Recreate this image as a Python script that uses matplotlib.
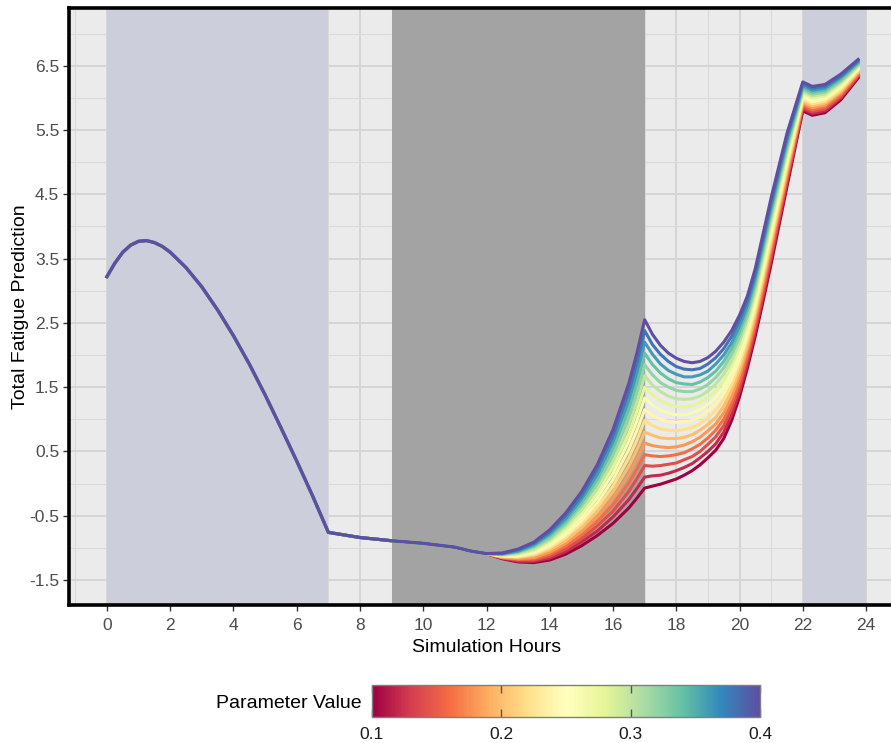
import numpy as np
import matplotlib
matplotlib.use('Agg')
import matplotlib.pyplot as plt
from matplotlib.colors import Normalize
from matplotlib.cm import ScalarMappable

plt.rcParams['font.family'] = ['Liberation Sans', 'DejaVu Sans']
plt.rcParams['axes.unicode_minus'] = False

# parameter values, one line each
params = [0.10, 0.12, 0.14, 0.16, 0.18, 0.20, 0.22, 0.24,
          0.26, 0.28, 0.30, 0.32, 0.34, 0.36, 0.38, 0.40]

# shared part of the curve (all lines overlap here)
early_hours = [0, 0.25, 0.5, 0.75, 1, 1.25, 1.5, 1.75, 2, 2.5, 3, 3.5, 4, 4.5,
               5, 5.5, 6, 6.5, 7, 7.5, 8, 9, 10, 10.5, 11, 11.5]
early_fatigue = [3.22, 3.43, 3.60, 3.71, 3.77, 3.78, 3.75, 3.69, 3.60, 3.36, 3.06, 2.70,
                 2.30, 1.86, 1.38, 0.87, 0.35, -0.19, -0.76, -0.80, -0.84, -0.89,
                 -0.93, -0.96, -0.99, -1.05]

# after hour 12 the lines split; each row = one hour, values for params 0.10 .. 0.40
late_hours = [12, 12.5, 13, 13.5, 14, 14.5, 15, 15.5, 16, 16.5, 16.75, 17, 17.25,
              17.5, 17.75, 18, 18.25, 18.5, 18.75, 19, 19.25, 19.5, 19.75, 20,
              20.25, 20.5, 20.75, 21, 21.5, 22, 22.3, 22.7, 23.2, 23.75]
late_by_hour = [
    [-1.09] * 16,
    [-1.17, -1.16, -1.16, -1.15, -1.15, -1.14, -1.13, -1.13, -1.12, -1.12, -1.11, -1.10, -1.10, -1.09, -1.09, -1.08],
    [-1.22, -1.21, -1.19, -1.18, -1.17, -1.15, -1.14, -1.13, -1.11, -1.10, -1.09, -1.07, -1.06, -1.05, -1.03, -1.02],
    [-1.23, -1.21, -1.19, -1.17, -1.15, -1.12, -1.10, -1.08, -1.06, -1.04, -1.02, -0.99, -0.97, -0.95, -0.93, -0.91],
    [-1.19, -1.16, -1.13, -1.10, -1.07, -1.03, -1.00, -0.97, -0.94, -0.91, -0.88, -0.85, -0.81, -0.78, -0.75, -0.72],
    [-1.10, -1.06, -1.02, -0.97, -0.93, -0.89, -0.84, -0.80, -0.76, -0.72, -0.67, -0.63, -0.59, -0.55, -0.50, -0.46],
    [-0.97, -0.91, -0.86, -0.80, -0.75, -0.69, -0.63, -0.58, -0.52, -0.47, -0.41, -0.35, -0.30, -0.24, -0.19, -0.13],
    [-0.81, -0.74, -0.66, -0.59, -0.52, -0.44, -0.37, -0.30, -0.22, -0.15, -0.08, 0.00, 0.07, 0.14, 0.22, 0.29],
    [-0.62, -0.52, -0.43, -0.33, -0.23, -0.13, -0.04, 0.06, 0.16, 0.26, 0.35, 0.45, 0.55, 0.65, 0.74, 0.84],
    [-0.38, -0.25, -0.12, 0.01, 0.14, 0.27, 0.40, 0.53, 0.66, 0.78, 0.91, 1.04, 1.17, 1.30, 1.43, 1.56],
    [-0.23, -0.08, 0.07, 0.22, 0.37, 0.52, 0.67, 0.82, 0.97, 1.12, 1.27, 1.42, 1.57, 1.72, 1.87, 2.02],
    [-0.07, 0.10, 0.28, 0.45, 0.63, 0.80, 0.98, 1.15, 1.33, 1.50, 1.68, 1.85, 2.03, 2.20, 2.38, 2.55],
    [-0.04, 0.12, 0.27, 0.43, 0.59, 0.75, 0.90, 1.06, 1.22, 1.38, 1.53, 1.69, 1.85, 2.01, 2.16, 2.32],
    [-0.01, 0.13, 0.28, 0.42, 0.57, 0.71, 0.85, 1.00, 1.14, 1.29, 1.43, 1.57, 1.72, 1.86, 2.01, 2.15],
    [0.03, 0.16, 0.30, 0.43, 0.56, 0.70, 0.83, 0.96, 1.10, 1.23, 1.36, 1.50, 1.63, 1.76, 1.90, 2.03],
    [0.07, 0.20, 0.32, 0.45, 0.57, 0.70, 0.82, 0.95, 1.07, 1.20, 1.32, 1.45, 1.57, 1.70, 1.82, 1.95],
    [0.13, 0.25, 0.37, 0.48, 0.60, 0.72, 0.84, 0.96, 1.07, 1.19, 1.31, 1.43, 1.55, 1.66, 1.78, 1.90],
    [0.20, 0.31, 0.42, 0.54, 0.65, 0.76, 0.87, 0.98, 1.10, 1.21, 1.32, 1.43, 1.54, 1.66, 1.77, 1.88],
    [0.29, 0.40, 0.50, 0.61, 0.72, 0.83, 0.93, 1.04, 1.15, 1.26, 1.36, 1.47, 1.58, 1.69, 1.79, 1.90],
    [0.40, 0.50, 0.61, 0.71, 0.82, 0.92, 1.02, 1.13, 1.23, 1.34, 1.44, 1.54, 1.65, 1.75, 1.86, 1.96],
    [0.52, 0.62, 0.73, 0.83, 0.93, 1.03, 1.14, 1.24, 1.34, 1.44, 1.55, 1.65, 1.75, 1.86, 1.96, 2.06],
    [0.70, 0.80, 0.90, 1.00, 1.10, 1.20, 1.30, 1.40, 1.50, 1.60, 1.70, 1.80, 1.90, 2.00, 2.10, 2.20],
    [0.98, 1.07, 1.17, 1.26, 1.35, 1.45, 1.54, 1.63, 1.73, 1.82, 1.91, 2.01, 2.10, 2.19, 2.29, 2.38],
    [1.35, 1.43, 1.52, 1.60, 1.69, 1.77, 1.86, 1.94, 2.03, 2.11, 2.20, 2.28, 2.37, 2.45, 2.54, 2.62],
    [1.80, 1.87, 1.95, 2.02, 2.10, 2.17, 2.25, 2.32, 2.40, 2.47, 2.55, 2.62, 2.70, 2.77, 2.85, 2.92],
    [2.30, 2.37, 2.44, 2.51, 2.58, 2.65, 2.72, 2.79, 2.86, 2.93, 3.00, 3.07, 3.14, 3.21, 3.28, 3.35],
    [2.85, 2.92, 2.99, 3.06, 3.13, 3.20, 3.27, 3.34, 3.41, 3.48, 3.55, 3.62, 3.69, 3.76, 3.83, 3.90],
    [3.42, 3.49, 3.56, 3.63, 3.70, 3.76, 3.83, 3.90, 3.97, 4.04, 4.11, 4.18, 4.24, 4.31, 4.38, 4.45],
    [4.62, 4.68, 4.73, 4.79, 4.84, 4.90, 4.95, 5.01, 5.06, 5.12, 5.17, 5.23, 5.28, 5.34, 5.40, 5.45],
    [5.80, 5.83, 5.86, 5.89, 5.92, 5.95, 5.98, 6.01, 6.04, 6.07, 6.10, 6.13, 6.16, 6.19, 6.22, 6.25],
    [5.73, 5.76, 5.79, 5.82, 5.85, 5.88, 5.91, 5.94, 5.97, 6.00, 6.03, 6.06, 6.09, 6.12, 6.15, 6.18],
    [5.77, 5.80, 5.83, 5.86, 5.89, 5.92, 5.95, 5.98, 6.00, 6.03, 6.06, 6.09, 6.12, 6.15, 6.18, 6.21],
    [5.97, 6.00, 6.02, 6.05, 6.08, 6.10, 6.13, 6.16, 6.18, 6.21, 6.24, 6.26, 6.29, 6.32, 6.34, 6.37],
    [6.31, 6.33, 6.35, 6.37, 6.39, 6.41, 6.43, 6.45, 6.46, 6.48, 6.50, 6.52, 6.54, 6.56, 6.58, 6.60],
]

# shaded periods (start, end, colour)
periods = [(0, 7, '#CCCFDB'), (9, 17, '#A3A3A3'), (22, 24, '#CCCFDB')]

x_ticks = list(range(0, 25, 2))
y_ticks = [-1.5, -0.5, 0.5, 1.5, 2.5, 3.5, 4.5, 5.5, 6.5]

fig = plt.figure(figsize=(8.91, 7.43), dpi=100)
ax = fig.add_axes([69 / 891, 138 / 743, 835 / 891, 597 / 743])
ax.set_facecolor('#EBEBEB')
ax.set_axisbelow(True)

for start, end, col in periods:
    ax.axvspan(start, end, color=col, lw=0, zorder=1)

cmap = plt.get_cmap('Spectral')
norm = Normalize(0.1, 0.4)
late = np.array(late_by_hour).T
for p, row in zip(params, late):
    x = early_hours + late_hours
    y = early_fatigue + list(row)
    ax.plot(x, y, color=cmap(norm(p)), lw=2.2, zorder=3)

ax.set_xlim(-1.2, 25.2)
ax.set_ylim(-1.89, 7.40)
ax.set_xticks(x_ticks)
ax.set_xticks(np.arange(-1, 26, 2), minor=True)
ax.set_yticks(y_ticks)
ax.set_yticklabels([f'{v:.1f}' for v in y_ticks])
ax.set_yticks(np.arange(-1, 8, 1), minor=True)

ax.grid(which='major', color='#D5D5D5', lw=1.4)
ax.grid(which='minor', color='#DADADA', lw=0.8)
ax.tick_params(which='major', length=4, width=1, color='#333333',
               labelcolor='#4D4D4D', labelsize=12.5)
ax.tick_params(axis='x', which='major', pad=5)
ax.tick_params(axis='y', which='major', pad=3)
ax.tick_params(which='minor', length=0)

for side in ['left', 'top', 'bottom']:
    ax.spines[side].set_linewidth(2.6)
    ax.spines[side].set_color('black')
ax.spines['right'].set_visible(False)

ax.set_xlabel('Simulation Hours', fontsize=14, labelpad=5)
ax.set_ylabel('Total Fatigue Prediction', fontsize=14, labelpad=0)

# colour bar legend
cax = fig.add_axes([372 / 891, 26 / 743, 388 / 891, 32 / 743])
cb = fig.colorbar(ScalarMappable(norm=norm, cmap=cmap), cax=cax, orientation='horizontal')
cb.set_ticks([0.1, 0.2, 0.3, 0.4])
cb.set_ticklabels(['0.1', '0.2', '0.3', '0.4'])
cb.outline.set_edgecolor('#7F7F7F')
cb.outline.set_linewidth(1)
cax.tick_params(direction='in', length=6, width=1, top=True, bottom=True,
                color='#555555', labelcolor='#1A1A1A', labelsize=12.5, pad=7)
fig.text(362 / 891, 1 - 703 / 743, 'Parameter Value', ha='right', va='center', fontsize=14)

fig.savefig('out.png', dpi=100)
